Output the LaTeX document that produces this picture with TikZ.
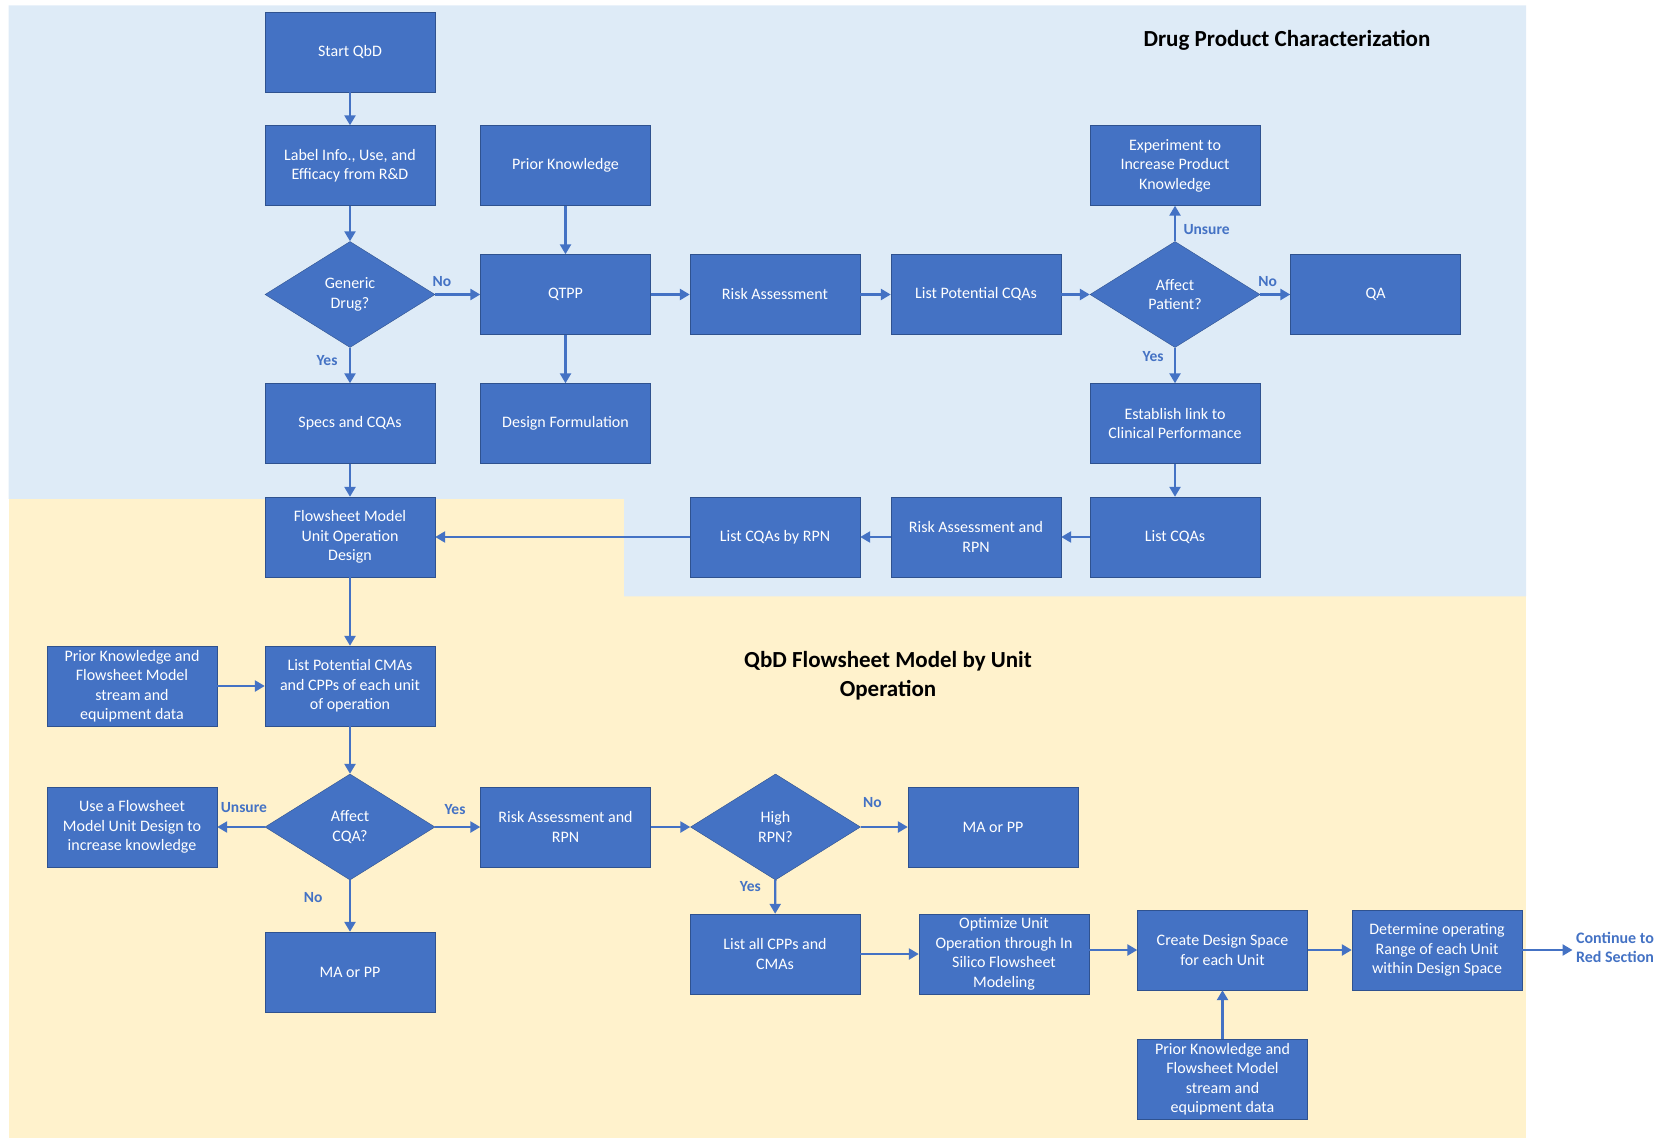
\documentclass[tikz,border=0pt]{standalone}
\usepackage{fontspec}
\setmainfont{Carlito}
\usetikzlibrary{shapes.geometric,arrows.meta}
\definecolor{boxblue}{HTML}{4472C4}
\definecolor{boxedge}{HTML}{2F528F}
\definecolor{skyback}{HTML}{DEEBF7}
\definecolor{sandback}{HTML}{FFF2CC}

\begin{document}
\begin{tikzpicture}[x=1pt, y=-1pt,
    box/.style={draw=boxedge, fill=boxblue, text=white, minimum width=170pt, minimum height=80pt, inner sep=1pt, align=center, font=\fontsize{16}{19.5}\selectfont},
    dec/.style={diamond, aspect=1.6, draw=boxedge, fill=boxblue, text=white, minimum width=170pt, minimum height=106pt, inner sep=0pt, align=center, font=\fontsize{16}{19.5}\selectfont},
    arr/.style={draw=boxblue, line width=2.4pt, -{Triangle[length=10pt,width=11pt]}},
    lbl/.style={text=boxblue, font=\bfseries\fontsize{15.5}{19}\selectfont},
    ttl/.style={align=center, font=\bfseries\fontsize{23}{29}\selectfont}]
\useasboundingbox (0,0) rectangle (1664,1139);
% backgrounds
\fill[sandback] (8.5,498.8) rectangle (1526,1137.6);
\fill[skyback] (8.5,5.3) -- (1526,5.3) -- (1526,596.4) -- (624,596.4) -- (624,498.8) -- (8.5,498.8) -- cycle;
\node[ttl] (ttlprod) at (1287,40) {Drug Product Characterization};
\node[ttl] (ttlflow) at (888,676) {QbD Flowsheet Model by Unit\\Operation};

% drug product part
\node[box] (start) at (350,52) {Start QbD};
\node[box] (label) at (350,165.5) {Label Info., Use, and\\Efficacy from R\&D};
\node[box] (prior) at (565.5,165.5) {Prior Knowledge};
\node[dec] (generic) at (350,294.5) {Generic\\Drug?};
\node[box] (qtpp) at (565.5,294.5) {QTPP};
\node[box] (risk) at (775,294.5) {Risk Assessment};
\node[box] (potcqa) at (976,294.5) {List Potential CQAs};
\node[dec] (patient) at (1175,294.5) {Affect\\Patient?};
\node[box] (qa) at (1375.5,294.5) {QA};
\node[box] (exper) at (1175,165.5) {Experiment to\\Increase Product\\Knowledge};
\node[box] (clinic) at (1175,423.5) {Establish link to\\Clinical Performance};
\node[box] (specs) at (350,423.5) {Specs and CQAs};
\node[box] (formul) at (565.5,423.5) {Design Formulation};
\node[box] (flowsh) at (350,537) {Flowsheet Model\\Unit Operation\\Design};
\node[box] (cqarpn) at (775,537) {List CQAs by RPN};
\node[box] (riskrpn) at (976,537) {Risk Assessment and\\RPN};
\node[box] (cqas) at (1175,537) {List CQAs};

% flowsheet part
\node[box] (priorfs) at (132,686) {Prior Knowledge and\\Flowsheet Model\\stream and\\equipment data};
\node[box] (potcma) at (350,686) {List Potential CMAs\\and CPPs of each unit\\of operation};
\node[box] (usefs) at (132,827) {Use a Flowsheet\\Model Unit Design to\\increase knowledge};
\node[dec] (affcqa) at (350,827) {Affect\\CQA?};
\node[box] (riskunit) at (565.5,827) {Risk Assessment and\\RPN};
\node[dec] (highrpn) at (775.5,827) {High\\RPN?};
\node[box] (mapp) at (993,827) {MA or PP};
\node[box] (mappno) at (350,972) {MA or PP};
\node[box] (allcpp) at (775,954) {List all CPPs and\\CMAs};
\node[box] (optim) at (1004,954) {Optimize Unit\\Operation through In\\Silico Flowsheet\\Modeling};
\node[box] (dspace) at (1222.5,950) {Create Design Space\\for each Unit};
\node[box] (range) at (1437,950) {Determine operating\\Range of each Unit\\within Design Space};
\node[box] (priords) at (1222.5,1079) {Prior Knowledge and\\Flowsheet Model\\stream and\\equipment data};
\node[lbl, align=center, font=\bfseries\fontsize{16}{19}\selectfont] (redsec) at (1615,947) {Continue to\\Red Section};

% connectors
\draw[arr] (start) -- (label);
\draw[arr] (label) -- (generic);
\draw[arr] (generic) -- node[lbl, pos=0.15, above=3pt]{No} (qtpp);
\draw[arr] (generic) -- node[lbl, pos=0.35, left=8pt]{Yes} (specs);
\draw[arr] (prior) -- (qtpp);
\draw[arr] (qtpp) -- (formul);
\draw[arr] (qtpp) -- (risk);
\draw[arr] (risk) -- (potcqa);
\draw[arr] (potcqa) -- (patient);
\draw[arr] (patient) -- node[lbl, pos=0.25, above=3pt]{No} (qa);
\draw[arr] (patient) -- node[lbl, pos=0.34, right=4pt]{Unsure} (exper);
\draw[arr] (patient) -- node[lbl, pos=0.26, left=7pt]{Yes} (clinic);
\draw[arr] (clinic) -- (cqas);
\draw[arr] (cqas) -- (riskrpn);
\draw[arr] (riskrpn) -- (cqarpn);
\draw[arr] (cqarpn) -- (flowsh);
\draw[arr] (specs) -- (flowsh);
\draw[arr] (flowsh) -- (potcma);
\draw[arr] (priorfs) -- (potcma);
\draw[arr] (potcma) -- (affcqa);
\draw[arr] (affcqa) -- node[lbl, pos=0.44, above=10pt]{Unsure} (usefs);
\draw[arr] (affcqa) -- node[lbl, pos=0.44, above=8pt]{Yes} (riskunit);
\draw[arr] (affcqa) -- node[lbl, pos=0.34, left=23pt]{No} (mappno);
\draw[arr] (riskunit) -- (highrpn);
\draw[arr] (highrpn) -- node[lbl, pos=0.25, above=15pt]{No} (mapp);
\draw[arr] (highrpn) -- node[lbl, pos=0.2, left=10pt]{Yes} (allcpp);
\draw[arr] (allcpp) -- (optim);
\draw[arr] (optim.east |- dspace.west) -- (dspace.west);
\draw[arr] (dspace) -- (range);
\draw[arr] (priords) -- (dspace);
\draw[arr] (range.east) -- (range.east -| redsec.west);
\end{tikzpicture}
\end{document}
